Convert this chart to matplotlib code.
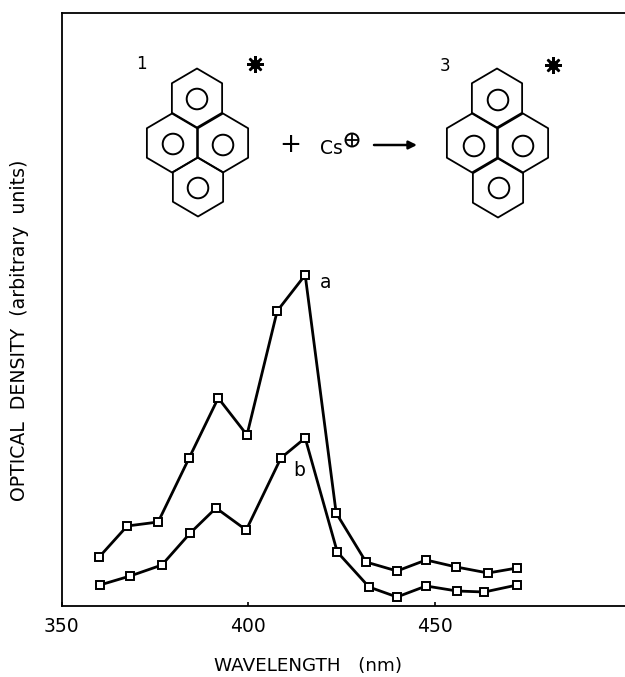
import numpy as np
import matplotlib
matplotlib.use("Agg")
import matplotlib.pyplot as plt
from matplotlib.patches import Circle, Polygon

wavelength_a = [360.1, 367.6, 375.9, 384.2, 392.0, 399.7, 407.8, 415.3, 423.6, 431.6, 439.9, 447.7, 455.8, 464.3, 472.1]
density_a = [49, 80, 84, 148, 208, 171, 295, 331, 93, 44, 35, 46, 39, 33, 38]
wavelength_b = [360.3, 368.4, 376.9, 384.5, 391.4, 399.5, 408.8, 415.3, 423.9, 432.4, 439.9, 447.7, 456.0, 463.3, 472.1]
density_b = [21, 30, 41, 73, 98, 76, 148, 168, 54, 19, 9, 20, 15, 14, 21]
x_ticks = [350, 400, 450]

W, H = 625, 677
plt.rcParams['font.family'] = ['DejaVu Sans']
fig = plt.figure(figsize=(W / 100, H / 100), dpi=100)
L, T, B = 61.5, 13, 606
ax = fig.add_axes([L / W, 1 - B / H, 1 - L / W, (B - T) / H])
ax.set_xlim(350, 501)
ax.set_ylim(0, 593)
for s in ['left', 'bottom', 'top']:
    ax.spines[s].set_linewidth(1.3)
ax.spines['right'].set_visible(False)
ax.set_xticks(x_ticks)
ax.set_yticks([])
ax.tick_params(axis='x', direction='in', length=3, width=1.2, labelsize=13.5, pad=8)

style = dict(color='black', lw=2.0, marker='s', ms=5.8, mfc='white', mec='black', mew=1.4)
ax.plot(wavelength_a, density_a, **style)
ax.plot(wavelength_b, density_b, **style)

ov = fig.add_axes([0, 0, 1, 1], facecolor='none')
ov.set_xlim(0, W)
ov.set_ylim(H, 0)
ov.axis('off')


def molecule(hexes, rings):
    for cx, cy in hexes:
        ang = np.radians(np.arange(30, 390, 60))
        pts = np.c_[cx + 29 * np.cos(ang), cy + 29.5 * np.sin(ang)]
        ov.add_patch(Polygon(pts, closed=True, fill=False, ec='black', lw=1.3, joinstyle='round'))
    for cx, cy in rings:
        ov.add_patch(Circle((cx, cy), 10.3, fill=False, ec='black', lw=1.4))


molecule([(197, 98), (172, 143), (223, 143), (198, 187)],
         [(197, 99), (173, 144), (223, 145), (198, 188)])
molecule([(497, 98), (472, 143), (523, 143), (498, 188)],
         [(498, 100), (474, 146), (523, 146), (499, 188)])

txt = dict(ha='center', va='center', color='black')
ov.text(141, 64, '1', fontsize=12, **txt)
ov.text(445, 66, '3', fontsize=12, **txt)
for x, y in [(255, 64), (553, 65)]:
    ov.plot([x], [y], marker=(8, 2, 0), ms=12, mew=1.8, color='black')
    ov.plot([x], [y], marker='o', ms=6, color='black')
ov.text(290, 145, '+', fontsize=19, **txt)
ov.text(331, 148, 'Cs', fontsize=13.5, **txt)
ov.add_patch(Circle((352, 140), 6.5, fill=False, ec='black', lw=1.4))
ov.plot([347, 357], [140, 140], color='black', lw=1.3)
ov.plot([352, 352], [135, 145], color='black', lw=1.3)
ov.annotate('', xy=(417, 145), xytext=(374, 145),
            arrowprops=dict(arrowstyle='-|>', color='black', lw=1.8, mutation_scale=12, shrinkA=0, shrinkB=0))
ov.text(326, 283, 'a', fontsize=13.5, **txt)
ov.text(299, 470, 'b', fontsize=13.5, **txt)
ov.text(308, 666, 'WAVELENGTH   (nm)', fontsize=13.2, **txt)
ov.text(20, 330, 'OPTICAL  DENSITY  (arbitrary  units)', fontsize=13.6, rotation=90, **txt)

fig.savefig('out.png', dpi=100)
